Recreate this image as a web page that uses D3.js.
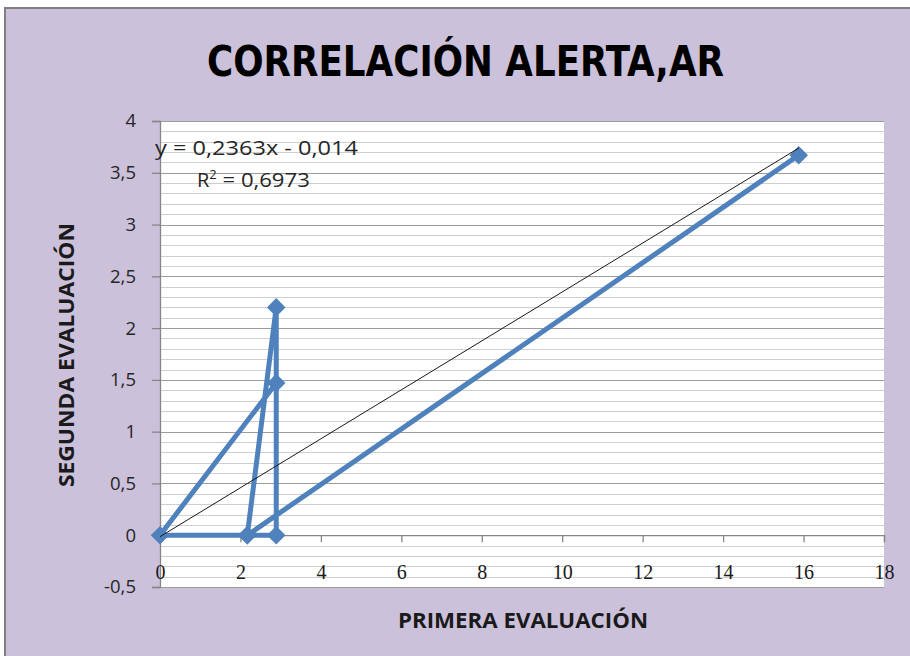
<!DOCTYPE html>
<html><head><meta charset="utf-8">
<script src="https://cdn.jsdelivr.net/npm/d3@7"></script>
<style>html,body{margin:0;padding:0;background:#fff;}svg{display:block;}</style>
</head><body>
<svg id="chart" width="910" height="656"></svg>
<script>
// Data
const title = "CORRELACIÓN ALERTA,AR";
const xTitle = "PRIMERA EVALUACIÓN";
const yTitle = "SEGUNDA EVALUACIÓN";
const xValues = [15.88, 2.17, 2.89, 2.89, 2.17, 0, 2.89];
const yValues = [3.67, 0, 0, 2.2, 0, 0, 1.47];
const xTicks = [0, 2, 4, 6, 8, 10, 12, 14, 16, 18];
const yTicks = [-0.5, 0, 0.5, 1, 1.5, 2, 2.5, 3, 3.5, 4];
const trendSlope = 0.2363;
const trendIntercept = -0.014;
const trendLabel = "y = 0,2363x - 0,014";
const r2Label = "0,6973";

const svg = d3.select("#chart");
const W = 910, H = 656;
const fmt = v => String(v).replace(".", ",");

// chart area
svg.append("rect").attr("x", 5).attr("y", 8).attr("width", W).attr("height", H)
  .attr("fill", "#ccc1da").attr("stroke", "#7f7f7f").attr("stroke-width", 2);

const x = d3.scaleLinear().domain([0, 18]).range([160, 884]);
const y = d3.scaleLinear().domain([-0.5, 4]).range([587, 121]);

// plot area
svg.append("rect").attr("x", x(0)).attr("y", y(4)).attr("width", x(18) - x(0)).attr("height", y(-0.5) - y(4))
  .attr("fill", "#ffffff");

// horizontal gridlines (minor every 0.1, major every 0.5)
const minor = d3.range(-5, 41).map(i => i / 10);
svg.append("g").selectAll("line").data(minor).join("line")
  .attr("x1", x(0)).attr("x2", x(18))
  .attr("y1", d => Math.round(y(d)) + 0.5).attr("y2", d => Math.round(y(d)) + 0.5)
  .attr("stroke", d => (Math.abs(d * 2 - Math.round(d * 2)) < 1e-6) ? "#9c9c9c" : "#cfcfcf")
  .attr("stroke-width", 1.2);

// Y axis
const yAxis = d3.axisLeft(y).tickValues(yTicks).tickSize(8).tickPadding(16).tickFormat(fmt);
const gy = svg.append("g").attr("transform", `translate(${x(0)},0)`).call(yAxis);
gy.select(".domain").attr("stroke", "#868686").attr("stroke-width", 1.3);
gy.selectAll(".tick line").attr("stroke", "#868686").attr("stroke-width", 1.3);
gy.selectAll("text").attr("font-family", "'Open Sans','Noto Sans',sans-serif").attr("font-size", 18.5)
  .attr("fill", "#262626");

// X axis at y = 0
const xAxis = d3.axisBottom(x).tickValues(xTicks).tickSize(7).tickPadding(23).tickFormat(fmt);
const gx = svg.append("g").attr("transform", `translate(0,${y(0)})`).call(xAxis);
gx.select(".domain").attr("stroke", "#868686").attr("stroke-width", 1.3);
gx.selectAll(".tick line").attr("stroke", "#868686").attr("stroke-width", 1.3);
gx.selectAll("text").attr("font-family", "'Liberation Serif',serif").attr("font-size", 20)
  .attr("fill", "#1a1a1a");

// series line + markers
const pts = xValues.map((v, i) => [v, yValues[i]]);
const line = d3.line().x(d => x(d[0])).y(d => y(d[1]));
svg.append("path").datum(pts).attr("d", line).attr("fill", "none")
  .attr("stroke", "#4f81bd").attr("stroke-width", 5).attr("stroke-linejoin", "round");
svg.append("g").selectAll("path").data(pts).join("path")
  .attr("d", d3.symbol().type(d3.symbolDiamond2).size(220))
  .attr("transform", d => `translate(${x(d[0])},${y(d[1])})`)
  .attr("fill", "#4f81bd");

// trendline
const xMax = d3.max(xValues);
svg.append("line")
  .attr("x1", x(0)).attr("y1", y(trendIntercept))
  .attr("x2", x(xMax)).attr("y2", y(trendSlope * xMax + trendIntercept))
  .attr("stroke", "#1a1a1a").attr("stroke-width", 1);

// trend labels
svg.append("text").attr("x", 155).attr("y", 155).text(trendLabel)
  .attr("font-family", "'Open Sans','Noto Sans',sans-serif").attr("font-size", 20).attr("fill", "#262626")
  .attr("textLength", 203).attr("lengthAdjust", "spacingAndGlyphs");
const r2 = svg.append("text").attr("x", 197).attr("y", 187)
  .attr("font-family", "'Open Sans','Noto Sans',sans-serif").attr("font-size", 20).attr("fill", "#262626");
r2.append("tspan").text("R");
r2.append("tspan").text("2").attr("font-size", 13).attr("dy", -8);
r2.append("tspan").text(" = " + r2Label).attr("dy", 8)
  .attr("textLength", 93).attr("lengthAdjust", "spacingAndGlyphs");

// titles
svg.append("text").attr("x", 465.5).attr("y", 76).attr("text-anchor", "middle").text(title)
  .attr("font-family", "'Liberation Sans Narrow','DejaVu Sans Condensed','Open Sans',sans-serif")
  .attr("font-weight", "bold").attr("font-size", 42).attr("fill", "#000")
  .attr("textLength", 517).attr("lengthAdjust", "spacingAndGlyphs");
svg.append("text").attr("x", 523).attr("y", 628).attr("text-anchor", "middle").text(xTitle)
  .attr("font-family", "'Open Sans','Noto Sans',sans-serif").attr("font-weight", "bold")
  .attr("font-size", 22).attr("fill", "#1a1a1a")
  .attr("textLength", 250).attr("lengthAdjust", "spacingAndGlyphs");
svg.append("text").attr("transform", "translate(74,355) rotate(-90)").attr("text-anchor", "middle").text(yTitle)
  .attr("font-family", "'Open Sans','Noto Sans',sans-serif").attr("font-weight", "bold")
  .attr("font-size", 22).attr("fill", "#1a1a1a")
  .attr("textLength", 264).attr("lengthAdjust", "spacingAndGlyphs");
</script>
</body></html>
